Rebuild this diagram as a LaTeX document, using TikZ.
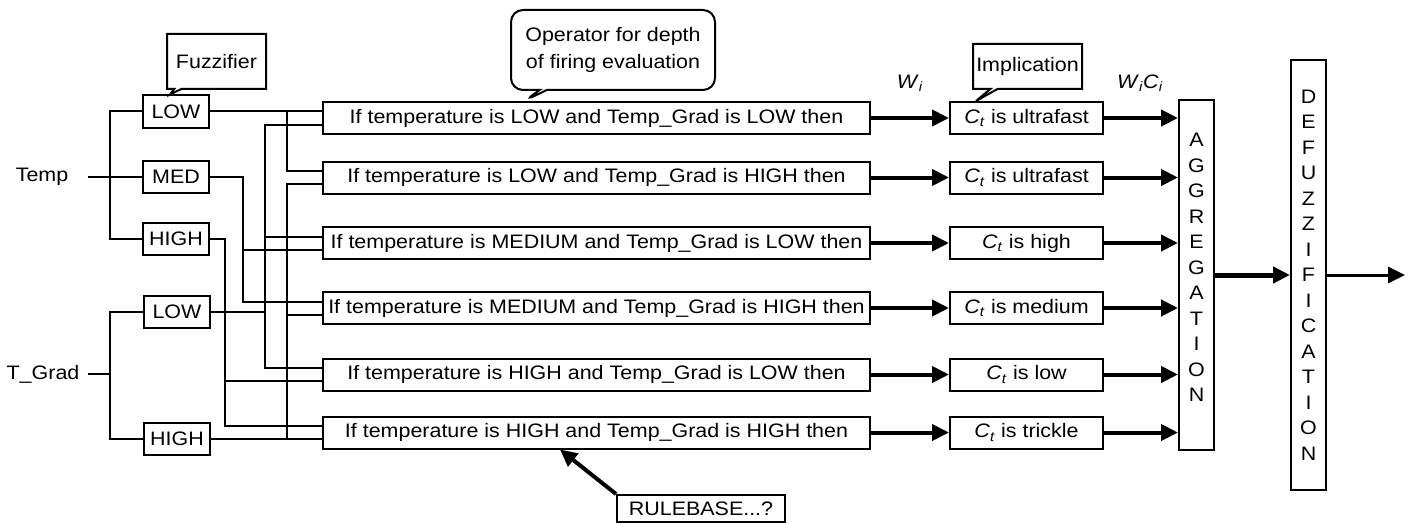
\documentclass[tikz,border=0pt]{standalone}
\usepackage{fontspec}
\setmainfont[FakeStretch=1.1]{Liberation Sans}
\usetikzlibrary{arrows.meta,positioning,shapes.callouts}
\newcommand{\Ct}{\textit{C}\textsubscript{\textit{t}}}
\newcommand{\Wi}{\textit{W}\textsubscript{\textit{i}}}
\newcommand{\Ci}{\textit{C}\textsubscript{\textit{i}}}

\begin{document}
\begin{tikzpicture}[x=1pt,y=-1pt,>={Triangle[length=17pt,width=16pt]},line width=2pt,
	font=\fontsize{19.5}{25.5}\selectfont,
	setbox/.style={draw,minimum width=66pt,minimum height=32pt,inner sep=0pt},
	rulebox/.style={draw,minimum width=547pt,minimum height=32pt,inner sep=0pt},
	consbox/.style={draw,minimum width=153pt,minimum height=32pt,inner sep=0pt},
	barbox/.style={draw,minimum width=35pt,inner sep=0pt},
	notebox/.style={rectangle callout,draw,fill=white,inner sep=2pt,align=center},
	firearrow/.style={->,line width=4pt}]
					
					\useasboundingbox (0,0) rectangle (1412,524);
					
					\node (Temp) at (42,177) {Temp};
					\node (Grad) at (43,374) {T\_Grad};
					\coordinate (Tin) at (88,177);
					\coordinate (Tbus) at (110,177);
					\coordinate (Gin) at (88,374);
					\coordinate (Gbus) at (110,374);
					
					\node[setbox] (TL) at (176,111.5) {LOW};
					\node[setbox] (TM) at (176,177) {MED};
					\node[setbox] (TH) at (176,239) {HIGH};
					\node[setbox] (GL) at (177,312) {LOW};
					\node[setbox] (GH) at (177,439) {HIGH};
					
					\node[rulebox] (R1) at (596.5,118) {If temperature is LOW and Temp\_Grad is LOW then};
					\node[rulebox] (R2) at (596.5,177.5) {If temperature is LOW and Temp\_Grad is HIGH then};
					\node[rulebox] (R3) at (596.5,243) {If temperature is MEDIUM and Temp\_Grad is LOW then};
					\node[rulebox] (R4) at (596.5,308) {If temperature is MEDIUM and Temp\_Grad is HIGH then};
					\node[rulebox] (R5) at (596.5,374.5) {If temperature is HIGH and Temp\_Grad is LOW then};
					\node[rulebox] (R6) at (596.5,432.5) {If temperature is HIGH and Temp\_Grad is HIGH then};
					\foreach \i in {1,...,6} {
						\coordinate (R\i u) at ([yshift=6.5pt]R\i.west);
						\coordinate (R\i d) at ([yshift=-6.5pt]R\i.west);
					}
					
					\coordinate (XA) at (225,0);
					\coordinate (XB) at (243,0);
					\coordinate (XC) at (265,0);
					\coordinate (XD) at (287,0);
					
					\draw (Tin) -- (TM.west);
					\draw (TL.west) -| (Tbus) |- (TH.west);
					\draw (Gin) -- (Gbus);
					\draw (GL.west) -| (Gbus) |- (GH.west);
					
					\draw (TL.east) -- (R1u);
					\draw (XD |- R1u) |- (R2u);
					\draw (TM.east) -| (XB |- R4u) -- (R4u);
					\draw (XB |- R3d) -- (R3d);
					\draw (TH.east) -| (XA |- R6u) -- (R6u);
					\draw (XA |- R5d) -- (R5d);
					\draw (GL.east) -- (GL.east -| XC);
					\draw (R1d) -| (XC |- R5u) -- (R5u);
					\draw (XC |- R3u) -- (R3u);
					\draw (GH.east) -- (R6d);
					\draw (XD |- R6d) |- (R2d);
					\draw (XD |- R4d) -- (R4d);
					
					\node[consbox] (C1) [right=78pt of R1] {\Ct\ is ultrafast};
					\node[consbox] (C2) [right=78pt of R2] {\Ct\ is ultrafast};
					\node[consbox] (C3) [right=78pt of R3] {\Ct\ is high};
					\node[consbox] (C4) [right=78pt of R4] {\Ct\ is medium};
					\node[consbox] (C5) [right=78pt of R5] {\Ct\ is low};
					\node[consbox] (C6) [right=78pt of R6] {\Ct\ is trickle};
					
					\node[barbox,minimum height=349pt] (AG) at (1196.5,275) {};
					\node[align=center] (AGt) at ([yshift=7.5pt]AG.center) {A\\G\\G\\R\\E\\G\\A\\T\\I\\O\\N};
					\node[barbox,minimum height=429pt,align=center] (DF) at (1308.5,275) {D\\E\\F\\U\\Z\\Z\\I\\F\\I\\C\\A\\T\\I\\O\\N};
					\coordinate (Out) at (1405,275);
					
					\foreach \i in {1,...,6} {
						\draw[firearrow] (R\i) -- (C\i);
						\draw[firearrow] (C\i) -- (C\i -| AG.west);
					}
					\draw[->,line width=5pt] (AG) -- (DF);
					\draw[->,line width=3pt] (DF) -- (Out);
					
					\node (Wl) at (910,83) {\Wi};
					\node (WCl) at (1140,83) {\Wi\Ci};
					
					\coordinate (FZp) at ([xshift=-6pt]TL.north);
					\coordinate (OPp) at ([xshift=202pt]R1.north west);
					\coordinate (IMp) at ([xshift=27pt]C1.north west);
					\node[notebox,minimum width=99pt,minimum height=55pt,callout absolute pointer=(FZp)] (FZ) at (216.5,61.5) {Fuzzifier};
					\node[notebox,rounded corners=12pt,minimum width=204pt,minimum height=80pt,font=\fontsize{19.5}{27}\selectfont,callout absolute pointer=(OPp)] (OP) at (613,50) {Operator for depth\\of firing evaluation};
					\node[notebox,minimum width=109pt,minimum height=45pt,callout absolute pointer=(IMp)] (IM) at (1027.5,66.5) {Implication};
					
					\node[draw,minimum width=168pt,minimum height=27pt,inner sep=0pt] (RB) at (701,508.5) {RULEBASE...?};
					\coordinate (RBp) at ([xshift=238pt]R6.south west);
					\draw[firearrow] (RB.north west) -- (RBp);
\end{tikzpicture}
\end{document}
